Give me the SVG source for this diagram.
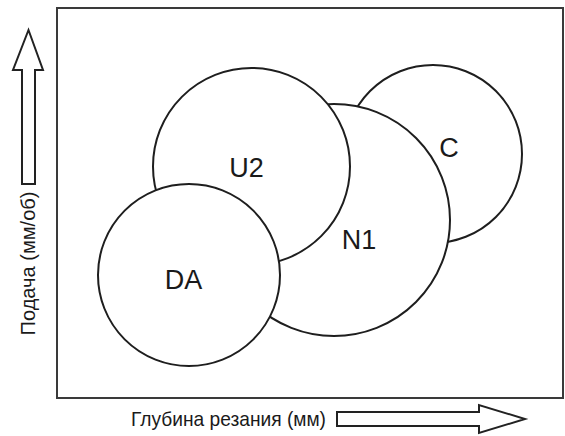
<svg xmlns="http://www.w3.org/2000/svg" width="565" height="436" viewBox="0 0 565 436">
  <style>
    .circ { fill: #ffffff; stroke: #1e1e1e; stroke-width: 2; }
    .lbl { font-family: "Liberation Sans", Arial, sans-serif; font-size: 27px; fill: #1a1a1a; text-anchor: middle; }
    .axis { font-family: "Liberation Sans", Arial, sans-serif; font-size: 21px; fill: #1a1a1a; }
    .arrow { fill: #ffffff; stroke: #222222; stroke-width: 2; stroke-linejoin: miter; }
    .frame { fill: #ffffff; stroke: #3a3a3a; stroke-width: 2; }
  </style>
  <rect x="0" y="0" width="565" height="436" fill="#ffffff"/>
  <rect class="frame" x="57" y="8" width="506" height="390"/>

  <g id="axes">
    <polygon class="arrow" points="22,184 22,70 13,70 28.5,30 43,70 35,70 35,184"/>
    <text class="axis" transform="translate(35,263.5) rotate(-90)" text-anchor="middle" textLength="144" lengthAdjust="spacingAndGlyphs">Подача (мм/об)</text>
    <polygon class="arrow" points="337,412 479,412 479,405 525,419 479,433 479,426 337,426"/>
    <text class="axis" x="131" y="426" textLength="195" lengthAdjust="spacingAndGlyphs">Глубина резания (мм)</text>
  </g>

  <g id="C">
    <circle class="circ" cx="433" cy="154" r="89"/>
    <text class="lbl" x="449" y="157">C</text>
  </g>
  <g id="N1">
    <circle class="circ" cx="334" cy="220" r="116"/>
    <text class="lbl" x="359" y="249">N1</text>
  </g>
  <g id="U2">
    <circle class="circ" cx="251.5" cy="166.5" r="98.5"/>
    <text class="lbl" x="246.5" y="177">U2</text>
  </g>
  <g id="DA">
    <circle class="circ" cx="189" cy="275" r="91"/>
    <text class="lbl" x="183.5" y="289">DA</text>
  </g>
  <g id="connectors"/>
</svg>
